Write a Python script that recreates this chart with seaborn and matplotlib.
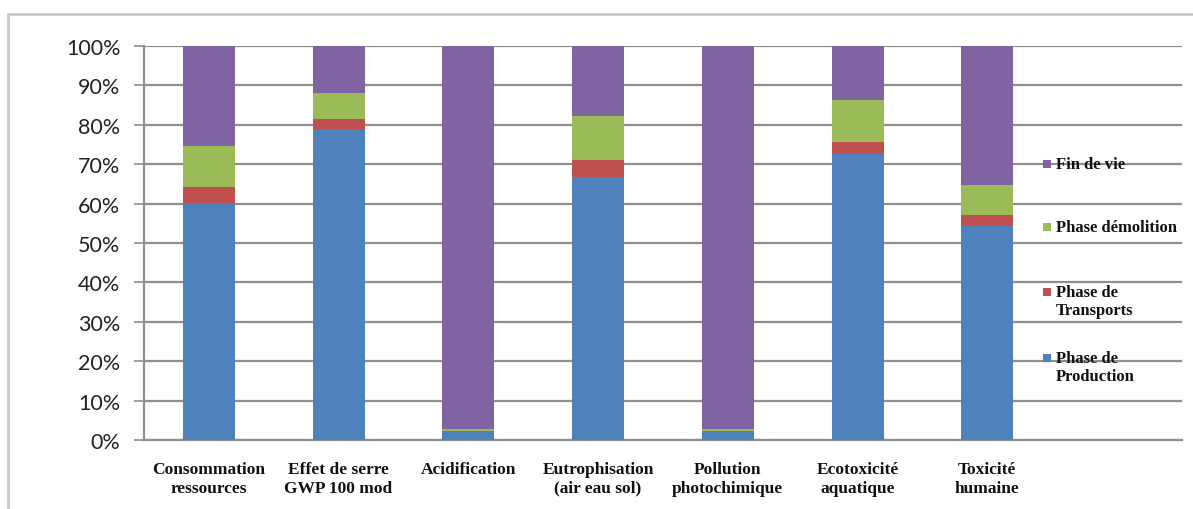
import numpy as np
import pandas as pd
import matplotlib
matplotlib.use("Agg")
import matplotlib.pyplot as plt
from matplotlib.patches import Rectangle
from matplotlib.lines import Line2D
import seaborn as sns

# Impact categories (x axis) and share of each life-cycle phase (%)
categories = [
    "Consommation\nressources",
    "Effet de serre\nGWP 100 mod",
    "Acidification",
    "Eutrophisation\n(air eau sol)",
    "Pollution\nphotochimique",
    "Ecotoxicité\naquatique",
    "Toxicité\nhumaine",
]
production = [60.2, 78.9, 2.2, 66.7, 2.2, 72.6, 54.2]
transports = [4.1, 2.6, 0.2, 4.4, 0.2, 3.1, 3.0]
demolition = [10.4, 6.5, 0.5, 11.2, 0.5, 10.6, 7.5]
fin_de_vie = [25.3, 12.0, 97.1, 17.7, 97.1, 13.7, 35.3]

series_names = ["Phase de\nProduction", "Phase de\nTransports", "Phase démolition", "Fin de vie"]
series_colors = ["#4F81BD", "#C0504D", "#9BBB59", "#8064A2"]
y_ticks = [0, 10, 20, 30, 40, 50, 60, 70, 80, 90, 100]
y_tick_labels = [f"{v}%" for v in y_ticks]

df = pd.DataFrame({
    "cat": categories,
    "prod": production,
    "trans": transports,
    "demo": demolition,
    "fin": fin_de_vie,
})
# cumulative tops for the stacked columns
cum = df[["prod", "trans", "demo", "fin"]].cumsum(axis=1)

sns.set_style("white")
plt.rcParams["font.family"] = ["DejaVu Sans"]

fig = plt.figure(figsize=(11.93, 5.10), dpi=100)
ax = fig.add_axes([144 / 1193, 1 - 441 / 510, (1182 - 144) / 1193, (441 - 47) / 510])

# draw from the tallest cumulative layer downwards so each phase shows as a stacked segment
layers = ["fin", "demo", "trans", "prod"]
layer_colors = series_colors[::-1]
for layer, col in zip(layers, layer_colors):
    sns.barplot(x=df["cat"], y=cum[layer], order=categories, color=col,
                width=0.4, saturation=1, linewidth=0, ax=ax, zorder=3)

ax.set_xlim(-0.5, 7.5)
ax.set_ylim(0, 100)
ax.set_xlabel("")
ax.set_ylabel("")

# horizontal gridlines
ax.set_yticks(y_ticks)
ax.set_yticklabels(y_tick_labels, fontfamily="Lato", fontsize=15.5, color="#222222")
ax.yaxis.grid(True, color="#8f8f8f", linewidth=1.6, zorder=0)
ax.set_axisbelow(True)
ax.tick_params(axis="y", direction="out", length=7, width=1.2, color="#8f8f8f", pad=10, left=True)

# category labels centred under bars, ticks at slot boundaries
ax.set_xticks(range(len(categories)))
ax.set_xticklabels(categories, fontfamily="Liberation Serif", fontweight="bold",
                   fontsize=12.5, color="#111111", linespacing=1.25)
ax.tick_params(axis="x", length=0, pad=15)
ax.set_xticks(np.arange(-0.5, 8.0, 1.0), minor=True)
ax.tick_params(axis="x", which="minor", direction="out", length=5, width=1.2, color="#8f8f8f")

for side in ["top", "right"]:
    ax.spines[side].set_visible(False)
for side in ["left", "bottom"]:
    ax.spines[side].set_color("#8f8f8f")
    ax.spines[side].set_linewidth(1.6)

# legend placed in the empty last slot
legend_items = [
    ("Fin de vie", series_colors[3], 165),
    ("Phase démolition", series_colors[2], 228),
    ("Phase de\nTransports", series_colors[1], 293),
    ("Phase de\nProduction", series_colors[0], 359),
]
for label, col, ypx in legend_items:
    fig.patches.append(Rectangle((1043 / 1193, 1 - (ypx + 4) / 510), 8 / 1193, 8 / 510,
                                 transform=fig.transFigure, facecolor=col, edgecolor="none",
                                 zorder=5))
    fig.text(1056 / 1193, 1 - (ypx - 8) / 510, label, fontfamily="Liberation Serif",
             fontweight="bold", fontsize=12, color="#111111", va="top", ha="left",
             linespacing=1.2, zorder=5)

# outer chart frame
fig.lines.append(Line2D([8 / 1193, 8 / 1193, 1.0], [0.0, 1 - 15 / 510, 1 - 15 / 510],
                        transform=fig.transFigure, color="#c8c8c8", linewidth=2))

fig.savefig("out.png", dpi=100)
